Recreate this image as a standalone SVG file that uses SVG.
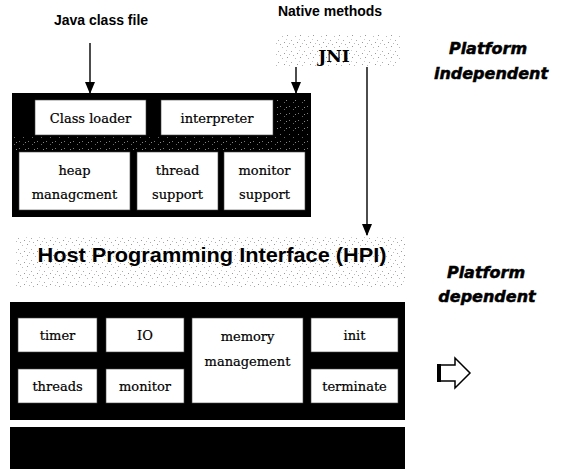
<svg xmlns="http://www.w3.org/2000/svg" width="565" height="469" viewBox="0 0 565 469">
<style>
.lbl{font-family:"Liberation Sans",Arial,sans-serif;font-weight:bold;font-size:14px;fill:#000}
.plat{font-family:"DejaVu Sans",sans-serif;font-weight:bold;font-style:italic;font-size:16px;fill:#000;stroke:#000;stroke-width:0.5;text-anchor:middle}
.box{fill:#fff;stroke:#444;stroke-width:0.6}
.t{font-family:"DejaVu Serif",serif;font-size:13px;fill:#000;stroke:#000;stroke-width:0.2;text-anchor:middle}
.blk{fill:#000}
.conn{stroke:#000;stroke-width:1.4;fill:none;marker-end:url(#ah)}
</style>
<defs>
<marker id="ah" markerWidth="12" markerHeight="10" refX="11" refY="5" orient="auto" markerUnits="userSpaceOnUse" viewBox="0 0 12 10">
<path d="M0,0 L12,5 L0,10 Z" fill="#000"/>
</marker>
<pattern id="grain" width="13" height="11" patternUnits="userSpaceOnUse">
<rect x="1" y="2" width="1" height="1" fill="#999"/>
<rect x="5" y="7" width="1" height="1" fill="#aaa"/>
<rect x="9" y="3" width="1" height="1" fill="#bbb"/>
<rect x="11" y="9" width="1" height="1" fill="#999"/>
<rect x="3" y="10" width="1" height="1" fill="#bbb"/>
<rect x="7" y="0" width="1" height="1" fill="#aaa"/>
<rect x="0" y="6" width="1" height="1" fill="#ccc"/>
</pattern>
<pattern id="grainD" width="9" height="7" patternUnits="userSpaceOnUse">
<rect x="1" y="1" width="1" height="1" fill="#777"/>
<rect x="5" y="4" width="1" height="1" fill="#666"/>
<rect x="7" y="2" width="1" height="1" fill="#888"/>
</pattern>
</defs>

<g id="java-class-file"><text class="lbl" x="101" y="25" text-anchor="middle">Java class file</text></g>
<g id="native-methods"><text class="lbl" x="330" y="16" text-anchor="middle">Native methods</text></g>

<g id="jni">
<rect x="275" y="34" width="125" height="32" fill="url(#grain)"/>
<text x="334" y="62" text-anchor="middle" style="font-family:'DejaVu Serif','Liberation Serif',serif;font-weight:bold;font-size:17px">JNI</text>
</g>

<g id="platform-independent">
<text class="plat" x="488" y="54">Platform</text>
<text class="plat" x="491" y="79">independent</text>
</g>

<g id="jvm-core">
<rect class="blk" x="12" y="93" width="299" height="124"/>
<rect x="14" y="136" width="295" height="15" fill="url(#grainD)"/>
<rect x="276" y="100" width="32" height="35" fill="url(#grainD)"/>
<g id="class-loader"><rect class="box" x="35" y="100" width="111" height="35"/><text class="t" x="90.5" y="123">Class loader</text></g>
<g id="interpreter"><rect class="box" x="161" y="100" width="112" height="35"/><text class="t" x="217" y="123">interpreter</text></g>
<g id="heap"><rect class="box" x="19" y="152" width="111" height="58"/><text class="t" x="74.5" y="175">heap</text><text class="t" x="74.5" y="199">managcment</text></g>
<g id="thread-support"><rect class="box" x="137" y="152" width="81" height="58"/><text class="t" x="177.5" y="175">thread</text><text class="t" x="177.5" y="199">support</text></g>
<g id="monitor-support"><rect class="box" x="224" y="152" width="81" height="58"/><text class="t" x="264.5" y="175">monitor</text><text class="t" x="264.5" y="199">support</text></g>
</g>

<g id="hpi">
<rect x="15" y="236" width="390" height="51" fill="url(#grain)"/>
<text x="212" y="262" text-anchor="middle" textLength="349" lengthAdjust="spacingAndGlyphs" style="font-family:'Liberation Sans',Arial,sans-serif;font-weight:bold;font-size:21px">Host Programming Interface (HPI)</text>
</g>

<g id="platform-dependent">
<text class="plat" x="486" y="278">Platform</text>
<text class="plat" x="487" y="302">dependent</text>
</g>

<g id="hpi-impl">
<rect class="blk" x="10" y="302" width="395" height="118"/>
<g id="timer"><rect class="box" x="18" y="318" width="79" height="34"/><text class="t" x="57.5" y="340">timer</text></g>
<g id="io"><rect class="box" x="106" y="318" width="78" height="34"/><text class="t" x="145" y="340">IO</text></g>
<g id="memory-management"><rect class="box" x="192" y="318" width="111" height="85"/><text class="t" x="247.5" y="341">memory</text><text class="t" x="247.5" y="366">management</text></g>
<g id="init"><rect class="box" x="311" y="318" width="87" height="34"/><text class="t" x="354.5" y="340">init</text></g>
<g id="threads"><rect class="box" x="18" y="369" width="79" height="34"/><text class="t" x="57.5" y="391">threads</text></g>
<g id="monitor"><rect class="box" x="106" y="369" width="78" height="34"/><text class="t" x="145" y="391">monitor</text></g>
<g id="terminate"><rect class="box" x="311" y="369" width="87" height="34"/><text class="t" x="354.5" y="391">terminate</text></g>
</g>

<g id="os-layer"><rect class="blk" x="10" y="427" width="395" height="42"/></g>

<g id="hollow-arrow">
<path d="M438,365 L455,365 L455,358 L470,373 L455,388 L455,381 L438,381 Z" fill="#fff" stroke="#000" stroke-width="1.5"/>
<rect x="437" y="364" width="4" height="18" fill="#000"/>
</g>

<g id="connectors">
<line class="conn" x1="90" y1="43" x2="90" y2="93"/>
<line class="conn" x1="296" y1="67" x2="296" y2="93"/>
<line class="conn" x1="367" y1="67" x2="367" y2="235"/>
</g>
</svg>
